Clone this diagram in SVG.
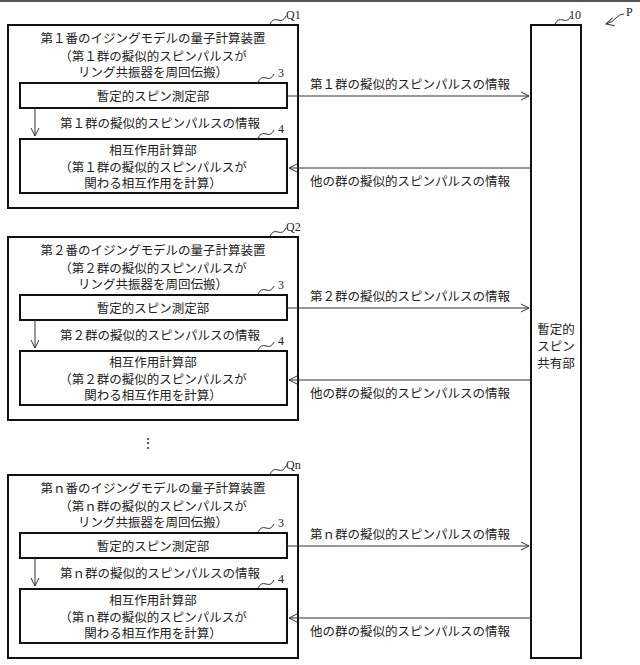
<svg xmlns="http://www.w3.org/2000/svg" width="640" height="665" viewBox="0 0 640 665">
<defs>
<style>
text{font-family:"Liberation Serif","Noto Sans CJK JP",serif;font-size:12.5px;fill:#222;text-anchor:middle}
.b{fill:#fff;stroke:#111;stroke-width:2}
.l{stroke:#333;stroke-width:1;fill:none}
.lab{text-anchor:start;font-size:12px}
</style>
<marker id="a" markerWidth="10" markerHeight="10" refX="9" refY="5" orient="auto" markerUnits="userSpaceOnUse"><path d="M1,1 L9,5 L1,9" fill="none" stroke="#333"/></marker>
<g id="unit">
<rect class="b" x="8" y="25" width="290" height="183"/>
<rect class="b" x="20" y="83" width="267" height="25"/>
<rect class="b" x="20" y="139" width="267" height="54"/>
<path class="l" d="M35 108 V136" marker-end="url(#a)"/>
<path class="l" d="M270 24 q3-6 8-4 t8-4"/>
<path class="l" d="M258 82 q3-6 8-4 t8-4"/>
<path class="l" d="M258 138 q3-6 8-4 t8-4"/>
<text class="lab" x="278" y="77">3</text>
<text class="lab" x="278" y="133">4</text>
<text x="153" y="101">暫定的スピン測定部</text>
<text x="153" y="155">相互作用計算部</text>
</g>
</defs>
<rect width="640" height="665" fill="#fff"/>
<line x1="0" y1="1" x2="640" y2="1" stroke="#555" stroke-width="2"/>
<g id="Q1">
<use href="#unit"/>
<text class="lab" x="286" y="19">Q1</text>
<text x="153" y="43">第１番のイジングモデルの量子計算装置</text>
<text x="153" y="61">（第１群の擬似的スピンパルスが</text>
<text x="153" y="77">リング共振器を周回伝搬）</text>
<text x="160" y="128">第１群の擬似的スピンパルスの情報</text>
<text x="153" y="172">（第１群の擬似的スピンパルスが</text>
<text x="153" y="188">関わる相互作用を計算）</text>
</g>
<g id="Q2" transform="translate(0,212)">
<use href="#unit"/>
<text class="lab" x="286" y="19">Q2</text>
<text x="153" y="43">第２番のイジングモデルの量子計算装置</text>
<text x="153" y="61">（第２群の擬似的スピンパルスが</text>
<text x="153" y="77">リング共振器を周回伝搬）</text>
<text x="160" y="128">第２群の擬似的スピンパルスの情報</text>
<text x="153" y="172">（第２群の擬似的スピンパルスが</text>
<text x="153" y="188">関わる相互作用を計算）</text>
</g>
<text x="148" y="448" style="font-size:14px">⋮</text>
<g id="Qn" transform="translate(0,450)">
<use href="#unit"/>
<text class="lab" x="286" y="19">Qn</text>
<text x="153" y="43">第ｎ番のイジングモデルの量子計算装置</text>
<text x="153" y="61">（第ｎ群の擬似的スピンパルスが</text>
<text x="153" y="77">リング共振器を周回伝搬）</text>
<text x="160" y="128">第ｎ群の擬似的スピンパルスの情報</text>
<text x="153" y="172">（第ｎ群の擬似的スピンパルスが</text>
<text x="153" y="188">関わる相互作用を計算）</text>
</g>
<g id="n10">
<rect class="b" x="531" y="25" width="50" height="633"/>
<path class="l" d="M555 24 q3-6 8-4 t8-4"/>
<text class="lab" x="569" y="19">10</text>
<text x="556" y="334">暫定的</text>
<text x="556" y="351">スピン</text>
<text x="556" y="368">共有部</text>
</g>
<g id="P">
<path class="l" d="M624 14 q-5 0 -8 4 t-10 6" marker-end="url(#a)"/>
<text class="lab" x="626" y="16">P</text>
</g>
<g id="connectors">
<path class="l" d="M287 96 H529" marker-end="url(#a)"/>
<path class="l" d="M531 168 H289" marker-end="url(#a)"/>
<path class="l" d="M287 308 H529" marker-end="url(#a)"/>
<path class="l" d="M531 380 H289" marker-end="url(#a)"/>
<path class="l" d="M287 546 H529" marker-end="url(#a)"/>
<path class="l" d="M531 618 H289" marker-end="url(#a)"/>
<text x="410" y="89">第１群の擬似的スピンパルスの情報</text>
<text x="410" y="186">他の群の擬似的スピンパルスの情報</text>
<text x="410" y="301">第２群の擬似的スピンパルスの情報</text>
<text x="410" y="398">他の群の擬似的スピンパルスの情報</text>
<text x="410" y="539">第ｎ群の擬似的スピンパルスの情報</text>
<text x="410" y="636">他の群の擬似的スピンパルスの情報</text>
</g>
</svg>
